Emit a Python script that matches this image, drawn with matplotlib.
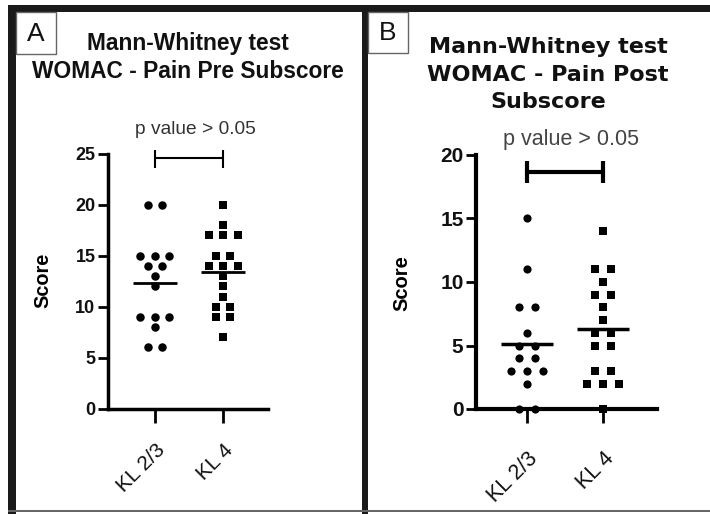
import numpy as np
import matplotlib
matplotlib.use("Agg")
import matplotlib.pyplot as plt
from matplotlib.patches import Rectangle

plt.rcParams['font.family'] = ['Liberation Sans', 'DejaVu Sans']

"""Data read off the figure"""
groups = ["KL 2/3", "KL 4"]
pre_kl23 = [20, 20, 15, 15, 15, 14, 14, 13, 12, 9, 9, 9, 8, 6, 6]
pre_kl4 = [20, 18, 17, 17, 17, 15, 15, 14, 14, 14, 13, 12, 11, 10, 10, 9, 9, 7]
post_kl23 = [15, 11, 8, 8, 6, 5, 5, 4, 4, 3, 3, 3, 2, 0, 0]
post_kl4 = [14, 11, 11, 10, 9, 9, 8, 7, 6, 6, 5, 5, 3, 3, 2, 2, 2, 0]
p_text = "p value > 0.05"
title_a = ["Mann-Whitney test", "WOMAC - Pain Pre Subscore"]
title_b = ["Mann-Whitney test", "WOMAC - Pain Post", "Subscore"]

W, H = 710, 514


def fx(x):
    return x / W


def fy(y):
    return 1 - y / H


def swarm(vals, step):
    # spread equal values side by side around the group centre
    vals = np.asarray(vals)
    off = np.zeros(len(vals))
    for v in np.unique(vals):
        idx = np.where(vals == v)[0]
        off[idx] = (np.arange(len(idx)) - (len(idx) - 1) / 2) * step
    return off


def panel(ax, a, b, ylim, step, ms_c, ms_s, spine_w, half, mean_w, br_y, br_lo, br_hi, br_w, tick_fs, xt_fs, xpad):
    for i, (vals, m, ms) in enumerate([(a, 'o', ms_c), (b, 's', ms_s)]):
        ax.plot(i + swarm(vals, step), vals, m, color='black', ms=ms, mew=0, clip_on=False, zorder=3)
        mu = np.mean(vals)
        ax.plot([i - half, i + half], [mu, mu], color='black', lw=mean_w, solid_capstyle='butt', zorder=4)
    # significance bracket
    ax.plot([0, 1], [br_y, br_y], color='black', lw=br_w, clip_on=False, solid_capstyle='butt')
    for i in (0, 1):
        ax.plot([i, i], [br_lo, br_hi], color='black', lw=br_w, clip_on=False, solid_capstyle='butt')
    ax.set_ylim(*ylim)
    ax.set_yticks(np.arange(0, ylim[1] + 1, 5))
    ax.set_xticks([0, 1])
    ax.set_xticklabels(groups, rotation=45, ha='right', rotation_mode='anchor', fontsize=xt_fs, color='#111')
    for lab in ax.get_yticklabels():
        lab.set_fontweight('bold')
        lab.set_fontsize(tick_fs)
        lab.set_color('#111')
    for s in ['top', 'right']:
        ax.spines[s].set_visible(False)
    for s in ['left', 'bottom']:
        ax.spines[s].set_linewidth(spine_w)
    ax.tick_params(axis='y', length=7, width=2, pad=2)
    ax.tick_params(axis='x', length=10, width=2, pad=xpad)


fig = plt.figure(figsize=(7.1, 5.14), dpi=100)

"""Panel A"""
axA = fig.add_axes([fx(108), fy(408.5), fx(160), 254.5 / H])
axA.set_xlim(-0.69, 1.66)
panel(axA, pre_kl23, pre_kl4, (0, 25), 0.213, 6.1, 5.8, 2.5, 0.32, 2, 24.6, 23.6, 25.4, 1.5, 13, 15, 13)
axA.text(0.59, 27.4, p_text, ha='center', va='center', fontsize=13.8, color='#333', clip_on=False)
for line, yb in zip(title_a, [50, 78]):
    fig.text(fx(188), fy(yb), line, ha='center', va='baseline', fontsize=16.4, fontweight='bold', color='#111')
fig.text(fx(43), fy(280), "Score", rotation=90, ha='center', va='center', fontsize=14.3, fontweight='bold')

"""Panel B"""
axB = fig.add_axes([fx(476), fy(409), fx(181), 254 / H])
axB.set_xlim(-0.67, 1.71)
panel(axB, post_kl23, post_kl4, (0, 20), 0.21, 5.9, 6.1, 3, 0.34, 2.5, 18.7, 17.8, 19.5, 3, 15, 15.5, 18)
axB.text(0.58, 21.2, p_text, ha='center', va='center', fontsize=15.5, color='#444', clip_on=False)
for line, yb in zip(title_b, [53, 81, 108]):
    fig.text(fx(548), fy(yb), line, ha='center', va='baseline', fontsize=16, fontweight='bold',
             color='#111', family='DejaVu Sans')
fig.text(fx(402), fy(283), "Score", rotation=90, ha='center', va='center', fontsize=14.5, fontweight='bold')

"""Frame"""
def band(x0, y0, x1, y1, c='#1a1a1a'):
    fig.add_artist(Rectangle((fx(x0), fy(y1)), fx(x1 - x0), (y1 - y0) / H,
                             transform=fig.transFigure, facecolor=c, edgecolor='none'))

band(8, 5, 710, 12)
band(8, 5, 16, 514)
band(362, 5, 368, 514)
band(8, 510, 710, 512, '#666')

for x0, x1, y1, lab in [(16, 56, 54, 'A'), (368, 408, 53, 'B')]:
    fig.add_artist(Rectangle((fx(x0), fy(y1)), fx(x1 - x0), (y1 - 12) / H, transform=fig.transFigure,
                             facecolor='white', edgecolor='#666', lw=1))
    fig.text(fx((x0 + x1) / 2), fy((12 + y1) / 2 + 1), lab, ha='center', va='center', fontsize=19, color='#111')

fig.savefig("out.png", dpi=100)
